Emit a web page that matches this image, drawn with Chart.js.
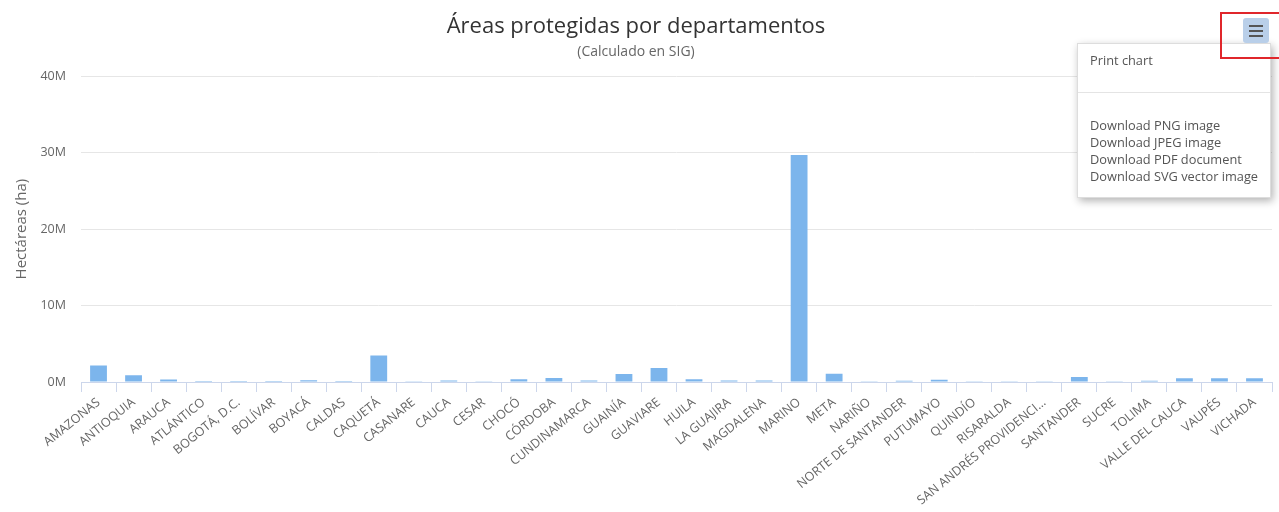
<!DOCTYPE html>
<html>
<head>
<meta charset="utf-8">
<script src="https://cdn.jsdelivr.net/npm/chart.js@4"></script>
<style>
  body { margin: 0; background: #fff; font-family: "Open Sans", sans-serif; }
  #wrap { position: relative; width: 1279px; height: 512px; overflow: hidden; }
  #menu-btn { position: absolute; left: 1243px; top: 18px; width: 26px; height: 25px; background: #b9cfe9; border-radius: 3px; }
  #menu-btn span { position: absolute; left: 6px; width: 14px; height: 2px; background: #555; }
  #red-box { position: absolute; left: 1220px; top: 12px; width: 70px; height: 47px; border: 2px solid #e0262b; box-sizing: border-box; }
  #menu { position: absolute; left: 1077px; top: 43px; width: 192px; height: 153px; background: #fff; border: 1px solid #ddd; box-shadow: 2px 3px 8px rgba(0,0,0,0.3); font-size: 12.8px; line-height: 17px; color: #555; }
  #menu div.item { position: absolute; left: 12px; white-space: nowrap; }
  #menu hr { position: absolute; left: 0; top: 48px; width: 100%; margin: 0; border: 0; border-top: 1px solid #e4e4e4; }
</style>
</head>
<body>
<div id="wrap">
  <canvas id="chart" width="1279" height="512"></canvas>
  <div id="menu">
    <div class="item" style="top:8px">Print chart</div>
    <hr>
    <div class="item" style="top:73px">Download PNG image</div>
    <div class="item" style="top:90px">Download JPEG image</div>
    <div class="item" style="top:107px">Download PDF document</div>
    <div class="item" style="top:124px">Download SVG vector image</div>
  </div>
  <div id="menu-btn"><span style="top:7px"></span><span style="top:12px"></span><span style="top:17px"></span></div>
  <div id="red-box"></div>
</div>
<script>
/**
 * DATA
 */
const departamentos = [
  "AMAZONAS", "ANTIOQUIA", "ARAUCA", "ATLÁNTICO", "BOGOTÁ, D.C.", "BOLÍVAR", "BOYACÁ", "CALDAS",
  "CAQUETÁ", "CASANARE", "CAUCA", "CESAR", "CHOCÓ", "CÓRDOBA", "CUNDINAMARCA", "GUAINÍA",
  "GUAVIARE", "HUILA", "LA GUAJIRA", "MAGDALENA", "MARINO", "META", "NARIÑO", "NORTE DE SANTANDER",
  "PUTUMAYO", "QUINDÍO", "RISARALDA", "SAN ANDRÉS PROVIDENCI...", "SANTANDER", "SUCRE", "TOLIMA",
  "VALLE DEL CAUCA", "VAUPÉS", "VICHADA"
];
const hectareas = [
  2170000, 870000, 340000, 5000, 10000, 15000, 220000, 10000,
  3480000, 30000, 200000, 20000, 350000, 520000, 200000, 1050000,
  1830000, 350000, 200000, 200000, 29700000, 1080000, 20000, 150000,
  300000, 20000, 20000, 20000, 650000, 20000, 150000,
  480000, 480000, 480000
];
const yTicks = [0, 10000000, 20000000, 30000000, 40000000];

const chartTitle = "Áreas protegidas por departamentos";
const chartSubtitle = "(Calculado en SIG)";
const yTitle = "Hectáreas (ha)";

/**
 * CHART
 */
const setChart = (id) => {
  return new Chart(document.getElementById(id), {
    type: "bar",
    data: {
      labels: departamentos,
      datasets: [{
        label: "Hectáreas",
        data: hectareas,
        backgroundColor: "#7cb5ec",
        barPercentage: 0.48,
        categoryPercentage: 1
      }]
    },
    options: {
      responsive: false,
      animation: false,
      layout: { padding: { left: 0, right: 7, top: 0, bottom: 0 } },
      plugins: {
        legend: { display: false },
        tooltip: { enabled: false },
        title: {
          display: true,
          text: chartTitle,
          color: "#333",
          font: { family: "Open Sans", size: 22, weight: "normal" },
          padding: { top: 14, bottom: 0 }
        },
        subtitle: {
          display: true,
          text: chartSubtitle,
          color: "#666",
          font: { family: "Open Sans", size: 14 },
          padding: { top: 3, bottom: 16 }
        }
      },
      scales: {
        x: {
          offset: true,
          grid: { offset: true, drawOnChartArea: false, drawTicks: true, tickLength: 10, color: "#ccd6eb" },
          border: { color: "#ccd6eb" },
          ticks: {
            autoSkip: false,
            maxRotation: 39,
            minRotation: 39,
            padding: 3,
            color: "#666",
            font: { family: "Open Sans", size: 12.5 }
          },
          afterFit: (scale) => { scale.height = 130; }
        },
        y: {
          min: 0,
          max: 40000000,
          afterBuildTicks: (scale) => { scale.ticks = yTicks.map(v => ({ value: v })); },
          grid: { color: "#e6e6e6", drawTicks: false },
          border: { display: false },
          ticks: {
            padding: 15,
            color: "#666",
            font: { family: "Open Sans", size: 12.5 },
            callback: (v) => (v / 1000000) + "M"
          },
          title: {
            display: true,
            text: yTitle,
            color: "#666",
            font: { family: "Open Sans", size: 15 },
            padding: { top: 13, bottom: 0 }
          },
          afterFit: (scale) => { scale.width = 81; }
        }
      }
    }
  });
};

document.addEventListener("DOMContentLoaded", () => {
  setChart("chart");
});
</script>
</body>
</html>
